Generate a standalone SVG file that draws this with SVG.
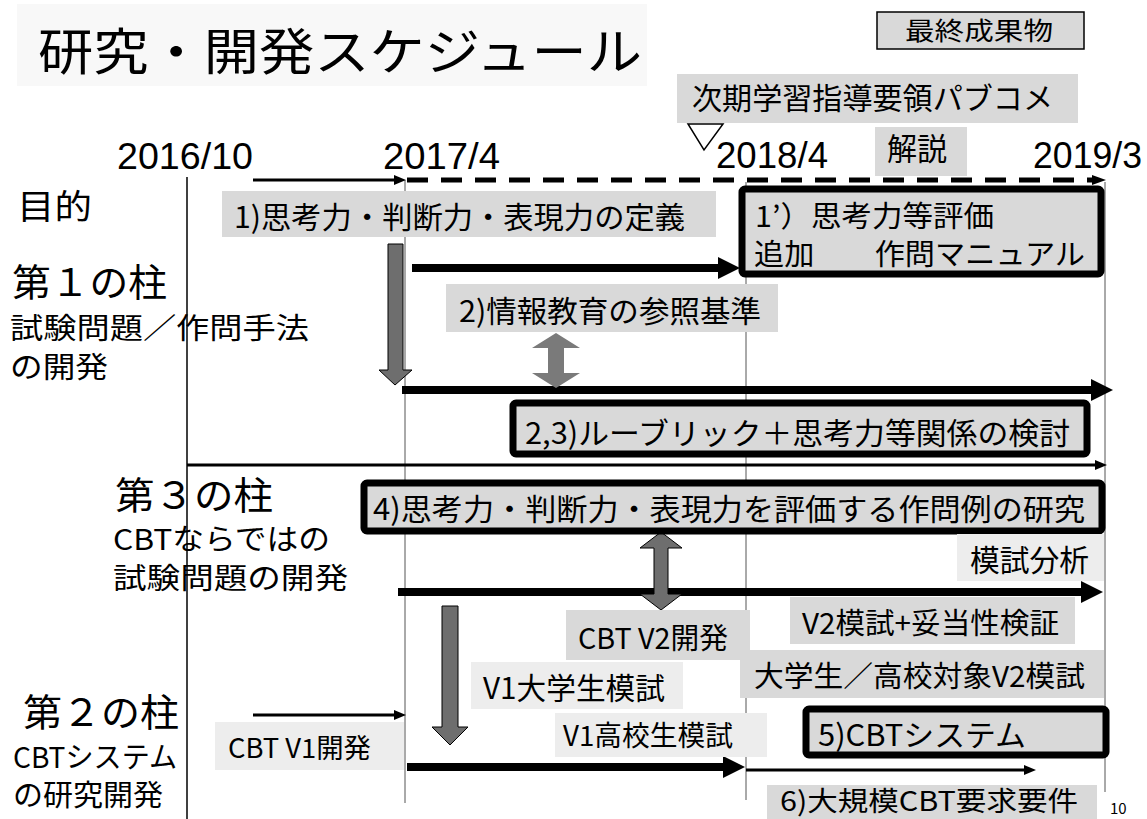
<svg xmlns="http://www.w3.org/2000/svg" width="1147" height="819" viewBox="0 0 1147 819">
<defs>
<style>
.t{font-family:"Noto Sans CJK JP","Noto Sans",sans-serif;fill:#000}
.d{font-family:"Liberation Sans","Noto Sans",sans-serif;fill:#000;font-size:37px}
.lbl{fill:#d9d9d9}
.lbl2{fill:#ededed}
.box{fill:#d9d9d9;stroke:#000;stroke-width:7}
.thick{stroke:#000;stroke-width:8;fill:none}
.thin{stroke:#000;stroke-width:3;fill:none}
.grid{stroke:#555;stroke-width:1}
.gray{fill:#6e6e6e;stroke:#000;stroke-width:1}
</style>
<marker id="ahT" markerUnits="userSpaceOnUse" markerWidth="22" markerHeight="22" refX="0" refY="11" orient="auto"><path d="M0,0 L22,11 L0,22 z" fill="#000"/></marker>
<marker id="ahS" markerUnits="userSpaceOnUse" markerWidth="12" markerHeight="10" refX="0" refY="5" orient="auto"><path d="M0,0 L12,5 L0,10 z" fill="#000"/></marker>
</defs>
<rect width="1147" height="819" fill="#fff"/>

<g id="title">
<rect x="17" y="4" width="630" height="82" fill="#f8f8f8"/>
<text class="t" x="38" y="70" font-size="50" textLength="604" lengthAdjust="spacingAndGlyphs">研究・開発スケジュール</text>
</g>

<g id="legend">
<rect x="877" y="12" width="207" height="37" fill="#d9d9d9" stroke="#000" stroke-width="1.5"/>
<text class="t" x="905" y="40" font-size="25" textLength="148" lengthAdjust="spacingAndGlyphs">最終成果物</text>
</g>

<g id="grid">
<line class="grid" x1="187" y1="177" x2="187" y2="819" style="stroke:#000;stroke-width:1.5"/>
<line class="grid" x1="405" y1="180" x2="405" y2="803"/>
<line class="grid" x1="746" y1="182" x2="746" y2="800"/>
<line class="grid" x1="1105" y1="182" x2="1105" y2="792"/>
</g>

<g id="dates">
<text class="d" x="117" y="169" textLength="136" lengthAdjust="spacingAndGlyphs">2016/10</text>
<text class="d" x="383" y="169" textLength="117" lengthAdjust="spacingAndGlyphs">2017/4</text>
<text class="d" x="716" y="168" textLength="112" lengthAdjust="spacingAndGlyphs">2018/4</text>
<text class="d" x="1033" y="168" textLength="109" lengthAdjust="spacingAndGlyphs">2019/3</text>
</g>

<g id="pubcom">
<rect class="lbl" x="677" y="74" width="401" height="49"/>
<text class="t" x="692" y="109" font-size="30" textLength="361" lengthAdjust="spacingAndGlyphs">次期学習指導要領パブコメ</text>
<polygon points="688,124 723,124 704,150" fill="#fff" stroke="#000" stroke-width="1.5"/>
</g>

<g id="kaisetsu">
<rect class="lbl" x="875" y="127" width="92" height="49"/>
<text class="t" x="887" y="160" font-size="31" textLength="60" lengthAdjust="spacingAndGlyphs">解説</text>
</g>

<g id="labels-left">
<text class="t" x="17" y="219" font-size="34" textLength="75" lengthAdjust="spacingAndGlyphs">目的</text>
<text class="t" x="12" y="296" font-size="38" textLength="155" lengthAdjust="spacingAndGlyphs">第１の柱</text>
<text class="t" x="10" y="339" font-size="29" textLength="299" lengthAdjust="spacingAndGlyphs">試験問題／作問手法</text>
<text class="t" x="10" y="378" font-size="29" textLength="98" lengthAdjust="spacingAndGlyphs">の開発</text>
<text class="t" x="115" y="509" font-size="38" textLength="158" lengthAdjust="spacingAndGlyphs">第３の柱</text>
<text class="t" x="113" y="550" font-size="29" textLength="217" lengthAdjust="spacingAndGlyphs">CBTならではの</text>
<text class="t" x="113" y="589" font-size="29" textLength="235" lengthAdjust="spacingAndGlyphs">試験問題の開発</text>
<text class="t" x="23" y="726" font-size="38" textLength="156" lengthAdjust="spacingAndGlyphs">第２の柱</text>
<text class="t" x="13" y="768" font-size="29" textLength="164" lengthAdjust="spacingAndGlyphs">CBTシステム</text>
<text class="t" x="13" y="806" font-size="29" textLength="150" lengthAdjust="spacingAndGlyphs">の研究開発</text>
</g>

<g id="connectors">
<line class="thin" x1="253" y1="180" x2="394" y2="180" marker-end="url(#ahS)"/>
<line x1="407" y1="180" x2="1092" y2="180" stroke="#000" stroke-width="5" stroke-dasharray="21 13"/>
<polygon points="1092,175 1106,180 1092,185" fill="#000"/>
<line class="thick" x1="412" y1="268" x2="718" y2="268" marker-end="url(#ahT)"/>
<line class="thick" x1="402" y1="390" x2="1091" y2="390" marker-end="url(#ahT)"/>
<line class="thin" x1="187" y1="465" x2="1095" y2="465" marker-end="url(#ahS)"/>
<line class="thick" x1="398" y1="592" x2="1081" y2="592" marker-end="url(#ahT)"/>
<line class="thin" x1="253" y1="715" x2="394" y2="715" marker-end="url(#ahS)"/>
<line class="thick" x1="407" y1="767" x2="723" y2="767" marker-end="url(#ahT)"/>
<line class="thin" x1="746" y1="770" x2="1024" y2="770" marker-end="url(#ahS)"/>
<polygon class="gray" points="388,244 403,244 403,370 412,370 395,385 379,370 388,370"/>
<polygon points="556,333 580,348 564,348 564,373 580,373 556,388 532,373 548,373 548,348 532,348" fill="#7a7a7a"/>
<polygon class="gray" points="661,532 682,548 668,548 668,594 682,594 661,610 640,594 654,594 654,548 640,548"/>
<polygon class="gray" points="442,606 458,606 458,727 468,727 450,745 432,727 442,727"/>
</g>

<g id="n1">
<rect class="lbl" x="222" y="191" width="494" height="46"/>
<text class="t" x="234" y="228" font-size="30" textLength="451" lengthAdjust="spacingAndGlyphs">1)思考力・判断力・表現力の定義</text>
</g>

<g id="n1p">
<rect class="box" x="742" y="189" width="359" height="85" rx="3"/>
<text class="t" x="755" y="227" font-size="29" textLength="239" lengthAdjust="spacingAndGlyphs">1’）思考力等評価</text>
<text class="t" x="754" y="265" font-size="29" textLength="331" lengthAdjust="spacingAndGlyphs">追加　　作問マニュアル</text>
</g>

<g id="n2">
<rect class="lbl" x="446" y="284" width="332" height="48"/>
<text class="t" x="459" y="322" font-size="30" textLength="302" lengthAdjust="spacingAndGlyphs">2)情報教育の参照基準</text>
</g>

<g id="n23">
<rect class="box" x="513" y="403" width="574" height="51" rx="3"/>
<text class="t" x="525" y="444" font-size="30" textLength="545" lengthAdjust="spacingAndGlyphs">2,3)ルーブリック＋思考力等関係の検討</text>
</g>

<g id="n4">
<rect class="box" x="364" y="483" width="738" height="48" rx="3"/>
<text class="t" x="373" y="520" font-size="30" textLength="712" lengthAdjust="spacingAndGlyphs">4)思考力・判断力・表現力を評価する作問例の研究</text>
</g>

<g id="mogi-bunseki">
<rect class="lbl2" x="957" y="534" width="147" height="47"/>
<text class="t" x="970" y="571" font-size="30" textLength="119" lengthAdjust="spacingAndGlyphs">模試分析</text>
</g>

<g id="cbt-v2">
<rect class="lbl" x="566" y="610" width="184" height="50"/>
<text class="t" x="578" y="649" font-size="29" textLength="150" lengthAdjust="spacingAndGlyphs">CBT  V2開発</text>
</g>

<g id="v2-mogi">
<rect class="lbl" x="790" y="597" width="285" height="47"/>
<text class="t" x="802" y="634" font-size="29" textLength="257" lengthAdjust="spacingAndGlyphs">V2模試+妥当性検証</text>
</g>

<g id="v2-target">
<rect class="lbl" x="740" y="650" width="364" height="48"/>
<text class="t" x="754" y="687" font-size="29" textLength="331" lengthAdjust="spacingAndGlyphs">大学生／高校対象V2模試</text>
</g>

<g id="v1-univ">
<rect class="lbl2" x="471" y="662" width="212" height="47"/>
<text class="t" x="483" y="699" font-size="30" textLength="182" lengthAdjust="spacingAndGlyphs">V1大学生模試</text>
</g>

<g id="v1-hs">
<rect class="lbl2" x="555" y="713" width="212" height="44"/>
<text class="t" x="563" y="746" font-size="28" textLength="170" lengthAdjust="spacingAndGlyphs" fill="#222">V1高校生模試</text>
</g>

<g id="n5">
<rect class="box" x="806" y="709" width="300" height="46" rx="3"/>
<text class="t" x="818" y="746" font-size="30" textLength="208" lengthAdjust="spacingAndGlyphs">5)CBTシステム</text>
</g>

<g id="cbt-v1">
<rect class="lbl2" x="215" y="722" width="189" height="48"/>
<text class="t" x="228" y="758" font-size="27" textLength="143" lengthAdjust="spacingAndGlyphs">CBT V1開発</text>
</g>

<g id="n6">
<rect class="lbl" x="767" y="785" width="330" height="34"/>
<text class="t" x="780" y="811" font-size="27" textLength="298" lengthAdjust="spacingAndGlyphs">6)大規模CBT要求要件</text>
</g>

<g id="page">
<text class="t" x="1110" y="814" font-size="15">10</text>
</g>
</svg>
